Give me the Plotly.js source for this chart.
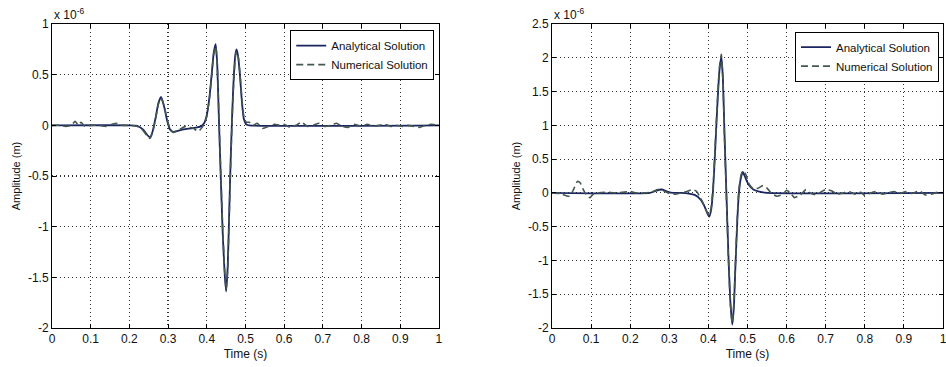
<!DOCTYPE html>
<html>
<head>
<meta charset="utf-8">
<script src="https://cdn.plot.ly/plotly-3.0.1.min.js"></script>
<style>html,body{margin:0;padding:0;background:#fff;}#chart{width:946px;height:367px;}</style>
</head>
<body>
<div id="chart"></div>
<script>
// Values in units of 1e-6 m
const leftAnalyticalT = [0, 0.2, 0.22, 0.235, 0.245, 0.253, 0.26, 0.268, 0.275, 0.282, 0.29, 0.298, 0.305, 0.313, 0.325, 0.34, 0.36, 0.375, 0.385, 0.393, 0.4, 0.407, 0.413, 0.418, 0.423, 0.427, 0.431, 0.436, 0.441, 0.446, 0.45, 0.454, 0.458, 0.462, 0.466, 0.47, 0.474, 0.477, 0.481, 0.486, 0.491, 0.496, 0.502, 0.51, 1.0];
const leftAnalyticalV = [0, 0, -0.005, -0.04, -0.09, -0.12, -0.06, 0.08, 0.22, 0.28, 0.18, 0.04, -0.04, -0.065, -0.055, -0.04, -0.03, -0.02, -0.01, 0.02, 0.1, 0.28, 0.52, 0.72, 0.8, 0.6, 0.1, -0.5, -1.05, -1.45, -1.64, -1.4, -0.85, -0.3, 0.15, 0.5, 0.7, 0.75, 0.68, 0.48, 0.22, 0.06, 0.01, 0, 0];

const leftNumericalT = [0, 0.02, 0.035, 0.05, 0.06, 0.068, 0.075, 0.085, 0.1, 0.12, 0.14, 0.155, 0.17, 0.18, 0.2, 0.22, 0.235, 0.245, 0.253, 0.26, 0.268, 0.275, 0.282, 0.29, 0.298, 0.305, 0.313, 0.33, 0.345, 0.355, 0.365, 0.378, 0.388, 0.394, 0.4, 0.407, 0.413, 0.418, 0.423, 0.427, 0.431, 0.436, 0.441, 0.446, 0.45, 0.454, 0.458, 0.462, 0.466, 0.47, 0.474, 0.477, 0.481, 0.486, 0.491, 0.496, 0.502, 0.51, 0.52, 0.53, 0.545, 0.56, 0.575, 0.59, 0.6, 0.615, 0.63, 0.645, 0.66, 0.675, 0.69, 0.705, 0.72, 0.735, 0.75, 0.765, 0.78, 0.8, 0.815, 0.83, 0.845, 0.86, 0.875, 0.89, 0.905, 0.92, 0.935, 0.95, 0.965, 0.98, 1.0];
const leftNumericalV = [0, 0, -0.01, 0, 0.04, 0, 0.03, -0.01, 0, 0, -0.01, 0.01, 0.02, 0, 0, -0.01, -0.05, -0.1, -0.13, -0.07, 0.07, 0.21, 0.27, 0.19, 0.05, -0.03, -0.07, -0.04, -0.01, -0.02, -0.03, -0.06, -0.02, 0.02, 0.09, 0.27, 0.5, 0.7, 0.78, 0.62, 0.14, -0.45, -1.0, -1.42, -1.62, -1.42, -0.9, -0.35, 0.1, 0.46, 0.68, 0.73, 0.68, 0.5, 0.25, 0.08, 0.03, 0.03, 0, 0.02, -0.03, -0.01, 0.01, 0, 0.01, -0.02, 0, 0.03, -0.01, 0, 0.02, -0.01, 0, 0.02, -0.01, -0.02, 0.01, -0.01, 0.01, -0.01, 0, 0.01, -0.01, 0, -0.01, 0, -0.01, -0.02, 0, 0.01, 0];

const rightAnalyticalT = [0, 0.25, 0.265, 0.28, 0.295, 0.31, 0.33, 0.35, 0.365, 0.38, 0.39, 0.397, 0.402, 0.407, 0.412, 0.417, 0.422, 0.428, 0.433, 0.437, 0.441, 0.446, 0.451, 0.456, 0.461, 0.465, 0.469, 0.474, 0.478, 0.483, 0.488, 0.495, 0.503, 0.515, 0.53, 0.55, 1.0];
const rightAnalyticalV = [0, 0, 0.03, 0.05, 0.02, 0, 0, -0.01, -0.03, -0.1, -0.2, -0.3, -0.35, -0.25, 0.05, 0.6, 1.2, 1.8, 2.02, 1.7, 0.9, 0, -0.9, -1.6, -1.95, -1.7, -1.1, -0.4, 0, 0.22, 0.31, 0.22, 0.12, 0.05, 0.02, 0, 0];

const rightNumericalT = [0, 0.02, 0.035, 0.045, 0.055, 0.065, 0.072, 0.08, 0.09, 0.097, 0.105, 0.12, 0.14, 0.16, 0.18, 0.2, 0.215, 0.235, 0.255, 0.27, 0.285, 0.3, 0.315, 0.33, 0.345, 0.36, 0.37, 0.38, 0.39, 0.397, 0.402, 0.407, 0.412, 0.417, 0.422, 0.428, 0.433, 0.437, 0.441, 0.446, 0.451, 0.456, 0.461, 0.465, 0.469, 0.474, 0.478, 0.483, 0.488, 0.495, 0.505, 0.515, 0.527, 0.54, 0.55, 0.56, 0.575, 0.59, 0.6, 0.61, 0.62, 0.635, 0.65, 0.66, 0.675, 0.69, 0.7, 0.715, 0.73, 0.745, 0.76, 0.775, 0.79, 0.8, 0.815, 0.83, 0.845, 0.86, 0.875, 0.89, 0.905, 0.92, 0.94, 0.955, 0.97, 0.985, 1.0];
const rightNumericalV = [0, -0.01, -0.04, -0.05, 0.05, 0.17, 0.15, 0.05, -0.05, -0.07, -0.02, 0, 0.01, 0, 0.01, 0.02, 0, 0, 0.01, 0.05, 0.03, -0.01, -0.02, 0, 0.02, 0.05, 0.02, -0.08, -0.2, -0.29, -0.33, -0.22, 0.1, 0.65, 1.25, 1.85, 2.05, 1.68, 0.85, -0.05, -0.95, -1.62, -1.93, -1.65, -1.05, -0.35, 0.05, 0.25, 0.33, 0.28, 0.12, 0.06, 0.07, 0.11, 0.07, 0, -0.05, -0.02, 0.04, 0, -0.07, -0.03, 0.05, 0, -0.03, 0.02, 0.05, 0.03, -0.02, 0, 0.02, -0.02, 0.01, -0.04, 0, 0.02, -0.02, 0, 0.02, -0.01, 0.02, -0.01, 0.03, -0.03, -0.02, 0.01, 0];

const xTicks = [0, 0.1, 0.2, 0.3, 0.4, 0.5, 0.6, 0.7, 0.8, 0.9, 1];
const xTickLabels = ['0', '0.1', '0.2', '0.3', '0.4', '0.5', '0.6', '0.7', '0.8', '0.9', '1'];
const leftYTicks = [-2, -1.5, -1, -0.5, 0, 0.5, 1];
const leftYTickLabels = ['-2', '-1.5', '-1', '-0.5', '0', '0.5', '1'];
const rightYTicks = [-2, -1.5, -1, -0.5, 0, 0.5, 1, 1.5, 2, 2.5];
const rightYTickLabels = ['-2', '-1.5', '-1', '-0.5', '0', '0.5', '1', '1.5', '2', '2.5'];
const seriesNames = ['Analytical Solution', 'Numerical Solution'];

const solidColor = '#1b2560';
const dashColor = '#44584f';
const font = {family: 'Liberation Sans, Arial, sans-serif', size: 12, color: '#111'};

const traces = [
  {x: leftAnalyticalT, y: leftAnalyticalV, xaxis: 'x', yaxis: 'y', mode: 'lines', name: seriesNames[0], legend: 'legend',
   line: {color: solidColor, width: 1.8, shape: 'spline', smoothing: 0.5}},
  {x: leftNumericalT, y: leftNumericalV, xaxis: 'x', yaxis: 'y', mode: 'lines', name: seriesNames[1], legend: 'legend',
   line: {color: dashColor, width: 1.6, dash: '7px,4px', shape: 'spline', smoothing: 0.5}},
  {x: rightAnalyticalT, y: rightAnalyticalV, xaxis: 'x2', yaxis: 'y2', mode: 'lines', name: seriesNames[0], legend: 'legend2',
   line: {color: solidColor, width: 1.8, shape: 'spline', smoothing: 0.5}},
  {x: rightNumericalT, y: rightNumericalV, xaxis: 'x2', yaxis: 'y2', mode: 'lines', name: seriesNames[1], legend: 'legend2',
   line: {color: dashColor, width: 1.6, dash: '7px,4px', shape: 'spline', smoothing: 0.5}}
];

function xAxis(domain, anchor) {
  return {domain: domain, anchor: anchor, range: [0, 1], tickvals: xTicks, ticktext: xTickLabels,
    showline: true, linecolor: '#000', linewidth: 1, mirror: 'ticks', ticks: 'inside', ticklen: 4, tickcolor: '#000',
    showgrid: true, gridcolor: '#333', griddash: '1px,3px', gridwidth: 1.2, zeroline: false,
    ticklabeloverflow: 'allow',
    tickfont: font, title: {text: 'Time (s)', font: {family: font.family, size: 12, color: '#111'}, standoff: 4}};
}
function yAxis(range, vals, labels, anchor) {
  return {domain: [0, 1], anchor: anchor, range: range, tickvals: vals, ticktext: labels,
    showline: true, linecolor: '#000', linewidth: 1, mirror: 'ticks', ticks: 'inside', ticklen: 4, tickcolor: '#000',
    showgrid: true, gridcolor: '#333', griddash: '1px,3px', gridwidth: 1.2, zeroline: false,
    tickfont: font, title: {text: 'Amplitude (m)', font: {family: font.family, size: 11, color: '#111'}}};
}

const legendStyle = {bgcolor: '#fff', bordercolor: '#000', borderwidth: 1, font: {family: font.family, size: 11.5, color: '#111'},
  xanchor: 'right', yanchor: 'top', tracegroupgap: 0, itemwidth: 30};

const layout = {
  width: 946, height: 367,
  margin: {l: 52, r: 3, t: 24, b: 39},
  paper_bgcolor: '#fff', plot_bgcolor: '#fff',
  showlegend: true,
  xaxis: xAxis([0, 0.4343], 'y'),
  yaxis: yAxis([-2, 1], leftYTicks, leftYTickLabels, 'x'),
  xaxis2: xAxis([0.5612, 1], 'y2'),
  yaxis2: yAxis([-2, 2.5], rightYTicks, rightYTickLabels, 'x2'),
  legend: Object.assign({x: 0.4290, y: 0.98}, legendStyle),
  legend2: Object.assign({x: 0.9955, y: 0.975}, legendStyle),
  annotations: [
    {text: 'x 10<sup>-6</sup>', xref: 'x', yref: 'paper', x: 0, y: 1, xanchor: 'left', yanchor: 'bottom', showarrow: false,
     font: {family: font.family, size: 12, color: '#111'}, xshift: 0},
    {text: 'x 10<sup>-6</sup>', xref: 'x2', yref: 'paper', x: 0, y: 1, xanchor: 'left', yanchor: 'bottom', showarrow: false,
     font: {family: font.family, size: 12, color: '#111'}, xshift: 0}
  ]
};

Plotly.newPlot('chart', traces, layout, {staticPlot: true, displayModeBar: false});
</script>
</body>
</html>
